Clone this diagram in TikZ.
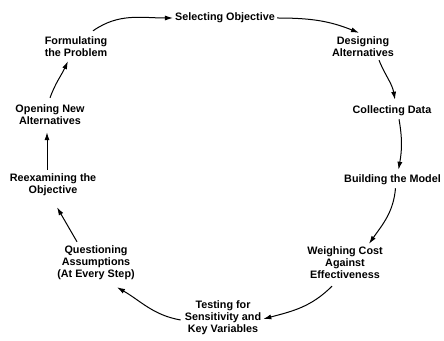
\documentclass[tikz,border=0pt]{standalone}
\usepackage{fontspec}
\setmainfont{Liberation Sans}
\usetikzlibrary{arrows.meta}
\begin{document}
\begin{tikzpicture}[x=1pt,y=1pt,
  stage/.style={font=\bfseries\fontsize{10.8}{12}\selectfont, align=center, inner sep=2pt},
  flow/.style={line width=1pt, -{Latex[length=8pt,width=5pt]}}]
\fill[white] (0,0) rectangle (444,340);
\useasboundingbox (0,0) rectangle (444,340);

% the steps of the cycle
\node[stage] (sel) at (225,322) {Selecting Objective};
\node[stage] (des) at (363,293) {Designing\\Alternatives};
\node[stage] (col) at (392,229) {Collecting Data};
\node[stage, anchor=west] (bld) at (342,160) {Building the Model};
\node[stage] (wei) at (345,77) {Weighing Cost\\Against\\Effectiveness};
\node[stage] (tes) at (223,22) {Testing for\\Sensitivity and\\Key Variables};
\node[stage] (que) at (96,77) {Questioning\\Assumptions\\(At Every Step)};
\node[stage] (ree) at (53,155) {Reexamining the\\Objective};
\node[stage] (ope) at (50,225) {Opening New\\Alternatives};
\node[stage] (frm) at (76,293) {Formulating\\the Problem};

% connectors, clockwise
\draw[flow] ([shift={(17,4)}]frm.north) to[out=35,in=180] (sel.west);
\draw[flow] (sel.east) to[out=0,in=158] ([shift={(-4,2)}]des.north);
\draw[flow] ([shift={(16,-1)}]des.south) to[out=-68,in=100] ([shift={(3,4)}]col.north);
\draw[flow] ([shift={(7,-1)}]col.south) to[out=-80,in=80] ([shift={(6,3)}]bld.north);
\draw[flow] ([shift={(3,-1)}]bld.south) to[out=-95,in=55] ([shift={(24,1)}]wei.north);
\draw[flow] ([shift={(-13,-5)}]wei.south) to[out=-135,in=15] ([shift={(0,-1)}]tes.east);
\draw[flow] ([shift={(-2,-2)}]tes.west) to[out=170,in=-30] ([shift={(21,-5)}]que.south);
\draw[flow] ([shift={(-19,2)}]que.north) -- ([shift={(4,-9)}]ree.south);
\draw[flow] ([shift={(-6,2)}]ree.north) -- ([shift={(-3,-5)}]ope.south);
\draw[flow] ([shift={(0,5)}]ope.north) to[out=70,in=-115] ([shift={(-8,-2)}]frm.south);
\end{tikzpicture}
\end{document}
